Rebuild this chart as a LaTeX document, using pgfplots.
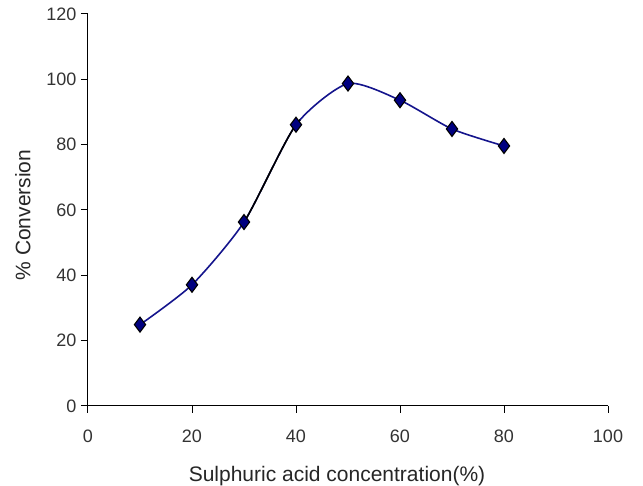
\documentclass[border=0pt]{standalone}
\usepackage{pgfplots}
\pgfplotsset{compat=1.18}
\usepackage{fontspec}
\setmainfont{Liberation Sans}
\definecolor{navyline}{RGB}{20,20,140}
\definecolor{navyfill}{RGB}{0,0,128}
\pgfplotstableread{
x y
10 24.9
20 37.1
30 56.3
40 86.1
50 98.7
60 93.6
70 84.8
80 79.6
}\conv
\begin{document}
\begin{tikzpicture}[x=1pt,y=1pt]
\useasboundingbox (-88,-80) rectangle (555,406);
\begin{axis}[
  scale only axis,
  width=520pt, height=392pt,
  xmin=0, xmax=100, ymin=0, ymax=120,
  xtick={0,20,...,100}, ytick={0,20,...,120},
  axis x line*=bottom, axis y line*=left,
  axis line style={-, line width=1pt},
  tick style={black, line width=1pt},
  tick align=outside, major tick length=7pt,
  every tick label/.append style={font=\fontsize{18}{20}\selectfont, text=black!80},
  /pgf/number format/assume math mode=true,
  xticklabel style={yshift=-13pt},
  yticklabel style={xshift=-1pt},
  xlabel={Sulphuric acid concentration(\%)},
  ylabel={\% Conversion},
  label style={font=\fontsize{21}{24}\selectfont, text=black!85},
  xlabel style={yshift=-17pt, xshift=-11pt},
  ylabel style={yshift=9pt, xshift=-5pt},
]
\addplot[color=navyline, line width=1.6pt, smooth, tension=0.4] table {\conv};
\addplot[color=black, line width=1.6pt, smooth, tension=0.4,
  dash pattern=on 0pt off 150pt on 114pt off 3000pt] table {\conv};
\addplot[only marks, mark=diamond*, mark size=7.5pt,
  mark options={fill=navyfill, draw=black, line width=1.1pt, solid}] table {\conv};
\end{axis}
\end{tikzpicture}
\end{document}
